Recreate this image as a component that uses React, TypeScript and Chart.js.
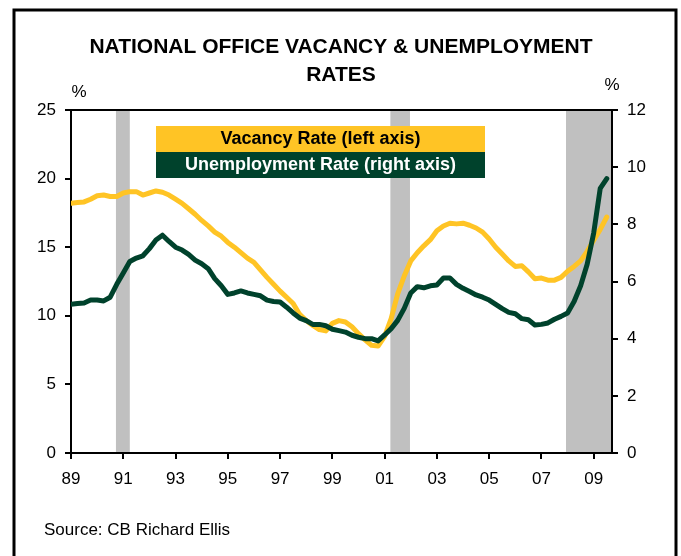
import React, { useEffect, useRef } from 'react';
import { Chart, registerables } from 'chart.js';

Chart.register(...registerables);

// ---- data ----
const startYear = 1989; // first quarter of the series
const quarterStep = 0.25;
const xMax = 2009.7;
const xTickYears = [1989, 1991, 1993, 1995, 1997, 1999, 2001, 2003, 2005, 2007, 2009];
const leftTicks = [0, 5, 10, 15, 20, 25];
const rightTicks = [0, 2, 4, 6, 8, 10, 12];

const vacancyRate = [
  18.2, 18.25, 18.3, 18.5, 18.75, 18.8, 18.7, 18.7, 18.95, 19.05,
  19.05, 18.8, 18.95, 19.1, 19.0, 18.8, 18.5, 18.2, 17.8, 17.4,
  16.95, 16.55, 16.1, 15.8, 15.35, 15.0, 14.6, 14.2, 13.9, 13.35,
  12.8, 12.3, 11.8, 11.35, 10.9, 10.1, 9.65, 9.3, 9.0, 8.9,
  9.45, 9.65, 9.55, 9.2, 8.7, 8.25, 7.85, 7.8, 8.5, 9.8,
  11.6, 12.9, 14.0, 14.6, 15.1, 15.55, 16.2, 16.55, 16.75, 16.7,
  16.75, 16.6, 16.4, 16.1, 15.6, 15.0, 14.5, 14.0, 13.6, 13.65,
  13.2, 12.7, 12.75, 12.6, 12.6, 12.8, 13.25, 13.6, 14.0, 14.7,
  15.5, 16.3, 17.2,
];

const unemploymentRate = [
  5.2, 5.23, 5.25, 5.35, 5.35, 5.32, 5.45, 5.9, 6.3, 6.7,
  6.82, 6.9, 7.15, 7.45, 7.62, 7.4, 7.2, 7.1, 6.95, 6.75,
  6.62, 6.45, 6.1, 5.85, 5.55, 5.6, 5.67, 5.6, 5.55, 5.5,
  5.35, 5.3, 5.28, 5.1, 4.9, 4.72, 4.63, 4.5, 4.5, 4.45,
  4.33, 4.28, 4.23, 4.12, 4.05, 4.0, 4.0, 3.92, 4.13, 4.35,
  4.64, 5.06, 5.6, 5.82, 5.78, 5.85, 5.88, 6.12, 6.12, 5.9,
  5.76, 5.65, 5.53, 5.45, 5.35, 5.2, 5.05, 4.92, 4.87, 4.7,
  4.66, 4.48, 4.5, 4.55, 4.68, 4.78, 4.9, 5.3, 5.85, 6.6,
  7.7, 9.26, 9.6,
];

const recessions: [number, number][] = [
  [1990.72, 1991.25],
  [2001.22, 2001.97],
  [2007.94, 2009.7],
];

const titleLines = ['NATIONAL OFFICE VACANCY & UNEMPLOYMENT', 'RATES'];
const legendLabels = ['Vacancy Rate (left axis)', 'Unemployment Rate (right axis)'];
const sourceText = 'Source: CB Richard Ellis';
const unitLabel = '%';

// ---- styles ----
const FONT = '"Liberation Sans", Arial, Helvetica, sans-serif';
const YELLOW = '#FFC425';
const GREEN = '#00422C';
const GREY = '#C0C0C0';

const toPoints = (arr: number[]) =>
  arr.map((v, i) => ({ x: startYear + i * quarterStep, y: v }));

const decorPlugin = {
  id: 'decor',
  beforeDraw(chart: any) {
    const { ctx, chartArea: a, scales } = chart;
    const x = scales.x;
    ctx.save();
    ctx.fillStyle = GREY;
    for (const [s, e] of recessions) {
      const x0 = x.getPixelForValue(s);
      const x1 = x.getPixelForValue(e);
      ctx.fillRect(x0, a.top, x1 - x0, a.bottom - a.top);
    }
    ctx.restore();
  },
  afterDraw(chart: any) {
    const { ctx, chartArea: a } = chart;
    ctx.save();
    // plot top border
    ctx.strokeStyle = '#000';
    ctx.lineWidth = 2;
    ctx.beginPath();
    ctx.moveTo(a.left, a.top);
    ctx.lineTo(a.right, a.top);
    ctx.stroke();

    // outer frame
    ctx.lineWidth = 3;
    ctx.strokeRect(14, 10, 662, 620);

    // title
    ctx.fillStyle = '#000';
    ctx.font = `bold 21px ${FONT}`;
    ctx.textAlign = 'center';
    ctx.textBaseline = 'middle';
    ctx.fillText(titleLines[0], 341, 47);
    ctx.fillText(titleLines[1], 341, 75);

    // units
    ctx.font = `17px ${FONT}`;
    ctx.fillText(unitLabel, 79, 92);
    ctx.fillText(unitLabel, 612, 85);

    // legend boxes
    const lx = 156, lw = 329;
    ctx.fillStyle = YELLOW;
    ctx.fillRect(lx, 126, lw, 26);
    ctx.fillStyle = GREEN;
    ctx.fillRect(lx, 152, lw, 26);
    ctx.font = `bold 18px ${FONT}`;
    ctx.fillStyle = '#000';
    ctx.fillText(legendLabels[0], lx + lw / 2, 139.5);
    ctx.fillStyle = '#fff';
    ctx.fillText(legendLabels[1], lx + lw / 2, 165.5);

    // source
    ctx.fillStyle = '#000';
    ctx.textAlign = 'left';
    ctx.font = `17px ${FONT}`;
    ctx.fillText(sourceText, 44, 530);
    ctx.restore();
  },
};

export default function App() {
  const ref = useRef<HTMLCanvasElement | null>(null);

  useEffect(() => {
    if (!ref.current) return;
    const tickFont = { family: FONT, size: 17 };
    const chart = new Chart(ref.current, {
      type: 'line',
      data: {
        datasets: [
          {
            label: legendLabels[1],
            data: toPoints(unemploymentRate),
            yAxisID: 'y1',
            borderColor: GREEN,
            borderWidth: 5,
            pointRadius: 0,
            tension: 0,
            borderJoinStyle: 'round',
            borderCapStyle: 'round',
            order: 0,
          },
          {
            label: legendLabels[0],
            data: toPoints(vacancyRate),
            yAxisID: 'y',
            borderColor: YELLOW,
            borderWidth: 5,
            pointRadius: 0,
            tension: 0,
            borderJoinStyle: 'round',
            borderCapStyle: 'round',
            order: 1,
          },
        ],
      },
      options: {
        responsive: false,
        animation: false,
        devicePixelRatio: 1,
        layout: { padding: { top: 110, left: 0, right: 0, bottom: 0 } },
        plugins: {
          legend: { display: false },
          tooltip: { enabled: false },
          title: { display: false },
        },
        scales: {
          x: {
            type: 'linear',
            min: startYear,
            max: xMax,
            afterFit: (s: any) => { s.height = 103; },
            afterBuildTicks: (s: any) => { s.ticks = xTickYears.map((v) => ({ value: v })); },
            grid: { drawOnChartArea: false, drawTicks: true, tickLength: 6, color: '#000', lineWidth: 2 },
            border: { display: true, color: '#000', width: 2 },
            ticks: {
              font: tickFont,
              color: '#000',
              padding: 10,
              maxRotation: 0,
              autoSkip: false,
              callback: (v: any) => String(Math.round(Number(v)) % 100).padStart(2, '0'),
            },
          },
          y: {
            type: 'linear',
            position: 'left',
            min: 0,
            max: 25,
            afterFit: (s: any) => { s.width = 71; },
            afterBuildTicks: (s: any) => { s.ticks = leftTicks.map((v) => ({ value: v })); },
            grid: { drawOnChartArea: false, drawTicks: true, tickLength: 6, color: '#000', lineWidth: 2 },
            border: { display: true, color: '#000', width: 2 },
            ticks: { font: tickFont, color: '#000', padding: 9 },
          },
          y1: {
            type: 'linear',
            position: 'right',
            min: 0,
            max: 12,
            afterFit: (s: any) => { s.width = 69; },
            afterBuildTicks: (s: any) => { s.ticks = rightTicks.map((v) => ({ value: v })); },
            grid: { drawOnChartArea: false, drawTicks: true, tickLength: 6, color: '#000', lineWidth: 2 },
            border: { display: true, color: '#000', width: 2 },
            ticks: { font: tickFont, color: '#000', padding: 9 },
          },
        },
      },
      plugins: [decorPlugin],
    } as any);
    return () => chart.destroy();
  }, []);

  return (
    <div style={{ position: 'absolute', left: 0, top: 0, width: 681, height: 556, background: '#fff' }}>
      <canvas ref={ref} width={681} height={556} style={{ display: 'block' }} />
    </div>
  );
}
